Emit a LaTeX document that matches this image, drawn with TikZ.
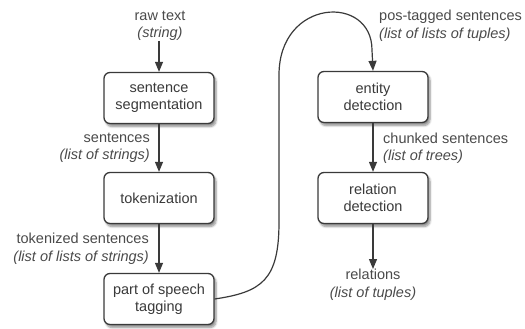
\documentclass[tikz,border=0pt]{standalone}
\usepackage{fontspec}
\setmainfont{Liberation Sans}
\usetikzlibrary{arrows.meta,shadows.blur}
\definecolor{ink}{HTML}{3A3A3A}
\definecolor{soft}{HTML}{4A4A4A}
\tikzset{
  stage/.style={draw=ink, line width=1.3pt, rounded corners=6pt, fill=white,
    minimum width=110pt, minimum height=51pt, align=center, text=ink,
    blur shadow={shadow xshift=2pt, shadow yshift=-3pt, shadow blur steps=6, shadow opacity=45}},
  datalabel/.style={text=soft, inner sep=0pt},
  flow/.style={draw=ink, line width=1.2pt, -{Triangle[length=10pt,width=8pt]}},
}
\newcommand{\typ}[1]{\textit{(#1)}}
\begin{document}
\begin{tikzpicture}[x=1pt,y=-1pt,font=\fontsize{14.5}{17.5}\selectfont]
\useasboundingbox (0,0) rectangle (525,329);

% processing stages
\node[stage] (seg) at (159,98) {sentence\\segmentation};
\node[stage] (tok) at (159,198) {tokenization};
\node[stage] (pos) at (159,299) {part of speech\\tagging};
\node[stage] (ent) at (373,97) {entity\\detection};
\node[stage] (rel) at (373,198) {relation\\detection};

% data passed between stages
\node[datalabel, align=center, anchor=south] (raw) at (160,41) {raw text\\\typ{string}};
\node[datalabel, align=right, anchor=east] (sents) at (150,148) {sentences\\\typ{list of strings}};
\node[datalabel, align=right, anchor=east] (toks) at (149,249) {tokenized sentences\\\typ{list of lists of strings}};
\node[datalabel, align=left, anchor=west] (tagged) at (379,26) {pos-tagged sentences\\\typ{list of lists of tuples}};
\node[datalabel, align=left, anchor=west] (chunked) at (383,148) {chunked sentences\\\typ{list of trees}};
\node[datalabel, align=center, anchor=north] (rels) at (373,269) {relations\\\typ{list of tuples}};

% connectors
\draw[flow] (raw.south -| seg.north) -- (seg.north);
\draw[flow] (seg) -- (tok);
\draw[flow] (tok) -- (pos);
\draw[flow] (ent) -- (rel);
\draw[flow] (rel) -- (rel.south |- rels.north);

\coordinate (riseLow) at (279,222);
\coordinate (riseTop) at (279,75);
\coordinate (dropIn) at (372,50);
\draw[flow] (pos.east) .. controls (262,292) and (279,280) .. (riseLow)
  -- (riseTop) .. controls (279,-2) and (372,-6) .. (dropIn) -- (ent.north);
\end{tikzpicture}
\end{document}
